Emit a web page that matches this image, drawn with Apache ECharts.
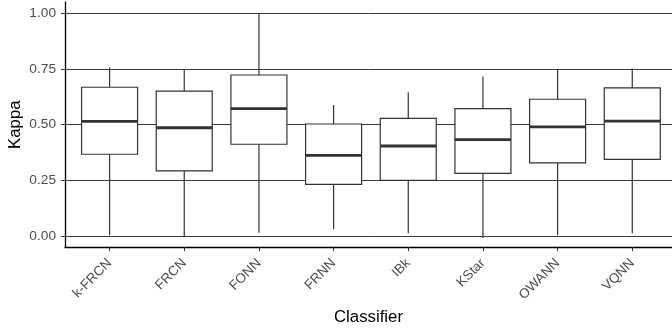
<!DOCTYPE html>
<html>
<head>
<meta charset="utf-8">
<script src="https://cdn.jsdelivr.net/npm/echarts@6/dist/echarts.min.js"></script>
<style>
html,body{margin:0;padding:0;background:#fff;}
#chart{width:672px;height:333px;}
</style>
</head>
<body>
<div id="chart"></div>
<script>
var categories = ['k-FRCN','FRCN','FONN','FRNN','IBk','KStar','OWANN','VQNN'];
var lowerWhisker = [0.003, -0.006, 0.015, 0.030, 0.012, -0.009, 0.003, 0.012];
var q1Values     = [0.367, 0.292, 0.412, 0.232, 0.250, 0.281, 0.328, 0.344];
var medianValues = [0.515, 0.486, 0.572, 0.362, 0.404, 0.433, 0.490, 0.516];
var q3Values     = [0.668, 0.651, 0.723, 0.503, 0.528, 0.572, 0.614, 0.665];
var upperWhisker = [0.757, 0.748, 1.000, 0.588, 0.645, 0.716, 0.747, 0.752];
var yTicks = [0, 0.25, 0.5, 0.75, 1.0];
var xTicks = [1, 2, 3, 4, 5, 6, 7, 8];

var boxData = categories.map(function (c, i) {
  return [i + 1, lowerWhisker[i], q1Values[i], medianValues[i], q3Values[i], upperWhisker[i]];
});

var chart = echarts.init(document.getElementById('chart'), null, {renderer: 'canvas'});
var font = '"Liberation Sans", Arial, Helvetica, sans-serif';

chart.setOption({
  animation: false,
  backgroundColor: '#ffffff',
  grid: {left: 65, right: 0, top: 2.2, bottom: 85.9, containLabel: false, outerBoundsMode: 'none'},
  xAxis: {
    type: 'value',
    min: 0.403,
    max: 8.532,
    name: 'Classifier',
    nameLocation: 'middle',
    nameGap: 62,
    nameMoveOverlap: false,
    nameTextStyle: {color: '#000', fontSize: 16.8, fontFamily: font},
    axisLine: {show: true, onZero: false, lineStyle: {color: '#000', width: 1.3}},
    axisTick: {show: true, length: 4, customValues: xTicks, lineStyle: {color: '#333', width: 1}},
    axisLabel: {
      customValues: xTicks,
      rotate: 45,
      margin: 14,
      color: '#4d4d4d',
      fontSize: 13.5,
      fontFamily: font,
      formatter: function (v) { return categories[Math.round(v) - 1] || ''; }
    },
    splitLine: {show: false}
  },
  yAxis: {
    type: 'value',
    min: -0.05,
    max: 1.05,
    name: 'Kappa',
    nameLocation: 'middle',
    nameGap: 41,
    nameMoveOverlap: false,
    nameTextStyle: {color: '#000', fontSize: 16.8, fontFamily: font},
    axisLine: {show: true, onZero: false, lineStyle: {color: '#000', width: 1.3}},
    axisTick: {show: true, length: 4, customValues: yTicks, lineStyle: {color: '#333', width: 1}},
    axisLabel: {
      customValues: yTicks,
      margin: 9,
      color: '#4d4d4d',
      fontSize: 13.7,
      fontFamily: font,
      formatter: function (v) { return v.toFixed(2); }
    },
    splitLine: {show: true, lineStyle: {color: '#3a3a3a', width: 1}}
  },
  series: [{
    type: 'custom',
    data: boxData,
    encode: {x: 0, y: [1, 2, 3, 4, 5]},
    clip: false,
    renderItem: function (params, api) {
      var x = api.value(0);
      var pMin = api.coord([x, api.value(1)]);
      var pQ1 = api.coord([x, api.value(2)]);
      var pMed = api.coord([x, api.value(3)]);
      var pQ3 = api.coord([x, api.value(4)]);
      var pMax = api.coord([x, api.value(5)]);
      var half = api.size([0.75, 0])[0] / 2;
      var stroke = '#333333';
      return {
        type: 'group',
        children: [
          {type: 'line', shape: {x1: pQ1[0], y1: pQ1[1], x2: pMin[0], y2: pMin[1]}, style: {stroke: stroke, lineWidth: 1.2}},
          {type: 'line', shape: {x1: pQ3[0], y1: pQ3[1], x2: pMax[0], y2: pMax[1]}, style: {stroke: stroke, lineWidth: 1.2}},
          {type: 'rect', shape: {x: pQ3[0] - half, y: pQ3[1], width: half * 2, height: pQ1[1] - pQ3[1]}, style: {fill: '#ffffff', stroke: stroke, lineWidth: 1.2}},
          {type: 'line', shape: {x1: pMed[0] - half, y1: pMed[1], x2: pMed[0] + half, y2: pMed[1]}, style: {stroke: stroke, lineWidth: 2.8}}
        ]
      };
    }
  }]
});
</script>
</body>
</html>
